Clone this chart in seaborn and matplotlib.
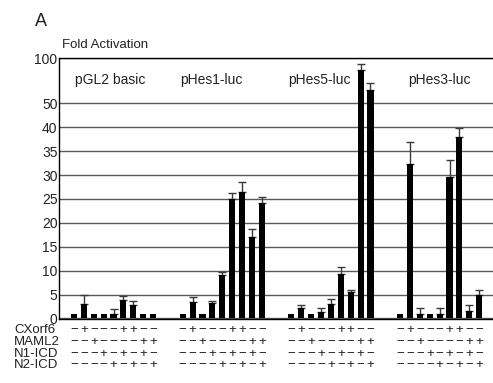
import numpy as np
import pandas as pd
import matplotlib
matplotlib.use("Agg")
import matplotlib.pyplot as plt
import matplotlib.transforms as mtransforms
import seaborn as sns

# ---- data ----
groups = ["pGL2 basic", "pHes1-luc", "pHes5-luc", "pHes3-luc"]
pgl2_vals = [1.0, 3.0, 1.0, 1.0, 1.0, 3.8, 2.8, 1.0, 1.0]
pgl2_err = [1.0, 4.8, 1.0, 1.0, 1.9, 4.7, 3.7, 1.0, 1.0]
hes1_vals = [1.0, 3.5, 1.0, 3.3, 9.1, 25.0, 26.4, 17.0, 24.2]
hes1_err = [1.0, 4.4, 1.0, 3.7, 9.8, 26.3, 28.5, 18.8, 25.4]
hes5_vals = [1.0, 2.1, 1.0, 1.4, 3.1, 9.2, 5.5, 86.8, 64.7]
hes5_err = [1.0, 2.9, 1.0, 2.1, 4.0, 10.7, 6.0, 93.4, 72.7]
hes3_vals = [1.0, 32.3, 1.0, 1.0, 1.0, 29.5, 38.0, 1.6, 4.9]
hes3_err = [1.0, 36.9, 2.1, 1.0, 2.1, 33.2, 39.8, 2.9, 5.9]
row_names = ["CXorf6", "MAML2", "N1-ICD", "N2-ICD"]
row_signs = ["−+−−−++−−", "−−+−−−−++", "−−−+−+−+−", "−−−−+−+−+"]
yticks = [0, 5, 10, 15, 20, 25, 30, 35, 40, 50, 100]

all_vals = [pgl2_vals, hes1_vals, hes5_vals, hes3_vals]
all_errs = [pgl2_err, hes1_err, hes5_err, hes3_err]

rows = []
for g, (vals, errs) in enumerate(zip(all_vals, all_errs)):
    for i, (v, e) in enumerate(zip(vals, errs)):
        rows.append({"pos": g * 11 + i, "val": v, "top": e, "group": groups[g]})
df = pd.DataFrame(rows)

# ---- broken-style y scale ----
def fwd(v):
    v = np.asarray(v, dtype=float)
    return np.where(v <= 40, v, np.where(v <= 50, 40 + (v - 40) * 0.5, 45 + (v - 50) * 0.19))

def inv(u):
    u = np.asarray(u, dtype=float)
    return np.where(u <= 40, u, np.where(u <= 45, 40 + (u - 40) * 2.0, 50 + (u - 45) / 0.19))

sns.set_theme(style="white")
plt.rcParams["font.family"] = ["Liberation Sans", "DejaVu Sans"]

W, H = 493, 383
fig = plt.figure(figsize=(W / 100, H / 100), dpi=100)
ax = fig.add_axes([59 / W, 64.5 / H, (W - 59) / W, (318.5 - 58) / H])
ax.set_yscale("function", functions=(fwd, inv))

sns.barplot(data=df, x="pos", y="val", native_scale=True, color="black",
            saturation=1, width=0.62, errorbar=None, ax=ax, zorder=3,
            linewidth=0, edgecolor="black")
err_df = df[df["top"] > df["val"]]
ax.errorbar(err_df["pos"], err_df["val"],
            yerr=[np.zeros(len(err_df)), err_df["top"] - err_df["val"]],
            fmt="none", ecolor="#3a3a3a", elinewidth=1, capsize=2.6, capthick=1, zorder=2)

ax.set_xlim(-1.52, 42.4)
ax.set_ylim(-0.02, 100)
ax.set_yticks(yticks)
ax.set_yticklabels([str(t) for t in yticks], fontsize=10, color="#222222")
ax.tick_params(axis="y", length=0, pad=1)
ax.set_xticks([])
ax.set_xlabel("")
ax.set_ylabel("")
ax.yaxis.grid(True, color="#5a5a5a", lw=1)
ax.set_axisbelow(True)
for s in ["left", "top", "bottom"]:
    ax.spines[s].set_color("black")
    ax.spines[s].set_linewidth(1)
ax.spines["right"].set_visible(False)

# group labels
label_x = [110.5, 211, 319.5, 439.5]
for name, px in zip(groups, label_x):
    fig.text(px / W, 1 - 80 / H, name, ha="center", va="center", fontsize=10, color="#222222")

fig.text(35 / W, 1 - 21.5 / H, "A", ha="left", va="center", fontsize=13, color="#222222")
fig.text(62 / W, 1 - 44.5 / H, "Fold Activation", ha="left", va="center", fontsize=9.5, color="#222222")

# sign rows
trans = mtransforms.blended_transform_factory(ax.transData, fig.transFigure)
row_y = [330.3, 342.1, 353.6, 365.2]
for name, signs, py in zip(row_names, row_signs, row_y):
    fig.text(14 / W, 1 - py / H, name, ha="left", va="center", fontsize=9.5, color="#222222")
    for g in range(len(groups)):
        for i, ch in enumerate(signs):
            ax.text(g * 11 + i, 1 - py / H, ch, transform=trans, ha="center", va="center",
                    fontsize=9.5, color="#222222", clip_on=False)

fig.savefig("out.png", dpi=100)
